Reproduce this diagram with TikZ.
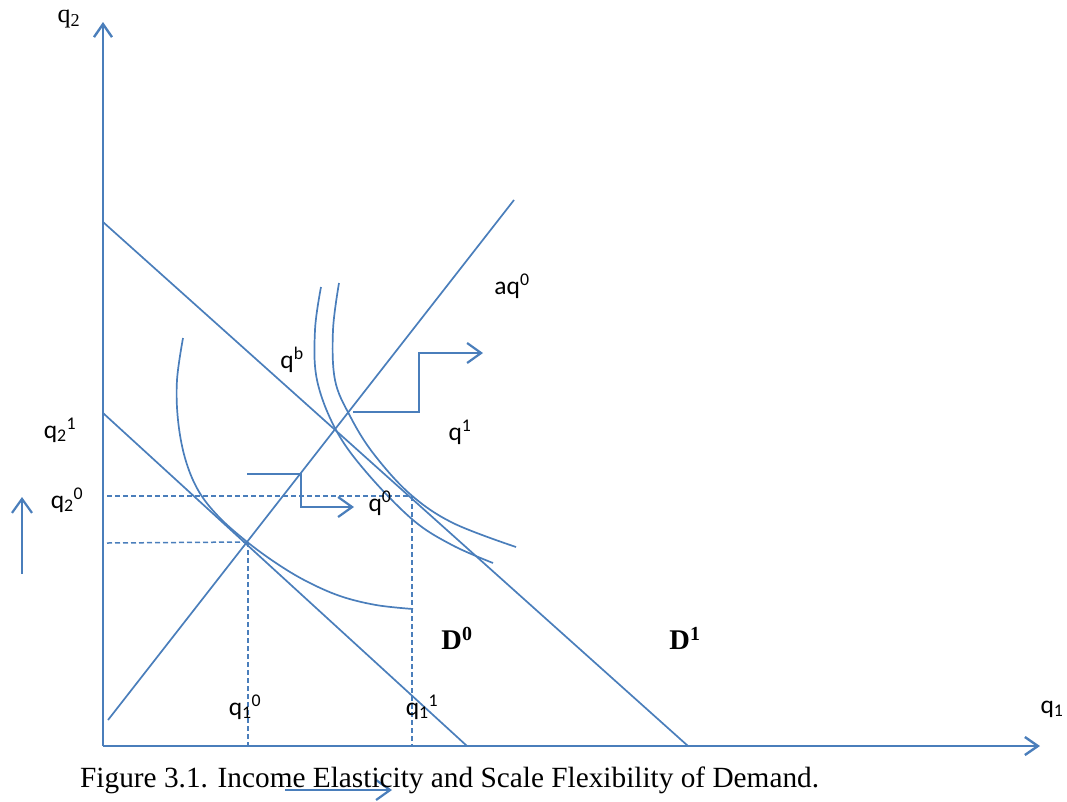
\documentclass[tikz,border=0pt]{standalone}
\usepackage{fontspec}
\setmainfont{Liberation Serif}
\newfontfamily\calfont{Carlito}
\usetikzlibrary{arrows.meta}
\definecolor{ln}{HTML}{4A7EBB}
\tikzset{
  axisln/.style={draw=ln, line width=2.8pt},
  thinln/.style={draw=ln, line width=1.7pt},
  dashln/.style={draw=ln, line width=1.5pt, dash pattern=on 5pt off 3pt},
  bigtip/.style={-{Straight Barb[length=13pt,width=18pt,line width=2.4pt]}},
  smalltip/.style={-{Straight Barb[length=14pt,width=20pt,line width=2.2pt]}},
  steparrow/.style={draw=ln, line width=2.3pt, smalltip},
  lab/.style={inner sep=0pt, font=\calfont\fontsize{25.5}{27}\selectfont},
  serlab/.style={inner sep=0pt, font=\fontsize{26}{28}\selectfont},
  dlab/.style={inner sep=0pt, font=\bfseries\fontsize{28.5}{30}\selectfont}
}
\begin{document}
\begin{tikzpicture}[x=1pt,y=-1pt]
\useasboundingbox (0,0) rectangle (1067,801);
% key points
\coordinate (O) at (103,746);
\coordinate (ytop) at (103,22);
\coordinate (xend) at (1040,746);
\coordinate (d1a) at (103,222);
\coordinate (d1b) at (688,746);
\coordinate (d0a) at (103,413);
\coordinate (d0b) at (467,746);
\coordinate (raya) at (108,720);
\coordinate (rayb) at (514,200);
\coordinate (t0) at (246,542);
\coordinate (q0pt) at (412,496);
% axes
\draw[axisln, bigtip] (O) -- (ytop);
\draw[axisln, bigtip] (O) -- (xend);
% budget lines and ray
\draw[thinln] (d1a) -- (d1b);
\draw[thinln] (d0a) -- (d0b);
\draw[thinln] (raya) -- (rayb);
% indifference curves
\draw[thinln] plot[smooth, tension=0.6] coordinates {(183,338) (177,380) (178,420) (185,458) (198,490) (218,516) (246,541) (276,563) (306,581) (340,596) (376,605) (413,609)};
\draw[thinln] plot[smooth, tension=0.6] coordinates {(321,287) (315,330) (317,380) (336,430) (367,473) (413,520) (452,545) (493,563)};
\draw[thinln] plot[smooth, tension=0.6] coordinates {(339,283) (333,330) (335,380) (350,416) (373,453) (410,494) (453,523) (516,547)};
% dashed guides
\draw[dashln] (107,496) -- (q0pt);
\draw[dashln] (q0pt) -- (412,746);
\draw[dashln] (107,543) -- (t0);
\draw[dashln] (248,542) -- (248,746);
% step arrows
\coordinate (s1a) at (353,412);
\coordinate (s1b) at (419,412);
\coordinate (s1c) at (419,353);
\coordinate (s1d) at (483,353);
\draw[steparrow] (s1a) -- (s1b) -- (s1c) -- (s1d);
\coordinate (s2a) at (247,474);
\coordinate (s2b) at (301,474);
\coordinate (s2c) at (301,507);
\coordinate (s2d) at (354,507);
\draw[steparrow] (s2a) -- (s2b) -- (s2c) -- (s2d);
\coordinate (u1) at (22,574);
\coordinate (u2) at (22,497);
\draw[steparrow] (u1) -- (u2);
\coordinate (b1) at (285,790);
\coordinate (b2) at (392,790);
\draw[steparrow] (b1) -- (b2);
% labels
\node[serlab] (lq2) at (69,19) {q\textsubscript{2}};
\node[lab] (lq1) at (1052,709) {q\textsubscript{1}};
\node[lab] (lq21) at (60,430) {q\textsubscript{2}\textsuperscript{1}};
\node[lab] (lq20) at (67,500) {q\textsubscript{2}\textsuperscript{0}};
\node[lab] (lqb) at (292,360) {q\textsuperscript{b}};
\node[lab] (laq) at (512,286) {aq\textsuperscript{0}};
\node[lab] (lq1s) at (460,432) {q\textsuperscript{1}};
\node[lab] (lq0s) at (380,503) {q\textsuperscript{0}};
\node[lab] (lq10) at (245,707) {q\textsubscript{1}\textsuperscript{0}};
\node[lab] (lq11) at (422,707) {q\textsubscript{1}\textsuperscript{1}};
\node[dlab] (lD0) at (457,638) {D\textsuperscript{0}};
\node[dlab] (lD1) at (685,638) {D\textsuperscript{1}};
\node[inner sep=0pt, anchor=base west, font=\fontsize{29.3}{31}\selectfont] (cap) at (80,787) {Figure 3.1. Income Elasticity and Scale Flexibility of Demand.};
\end{tikzpicture}
\end{document}
